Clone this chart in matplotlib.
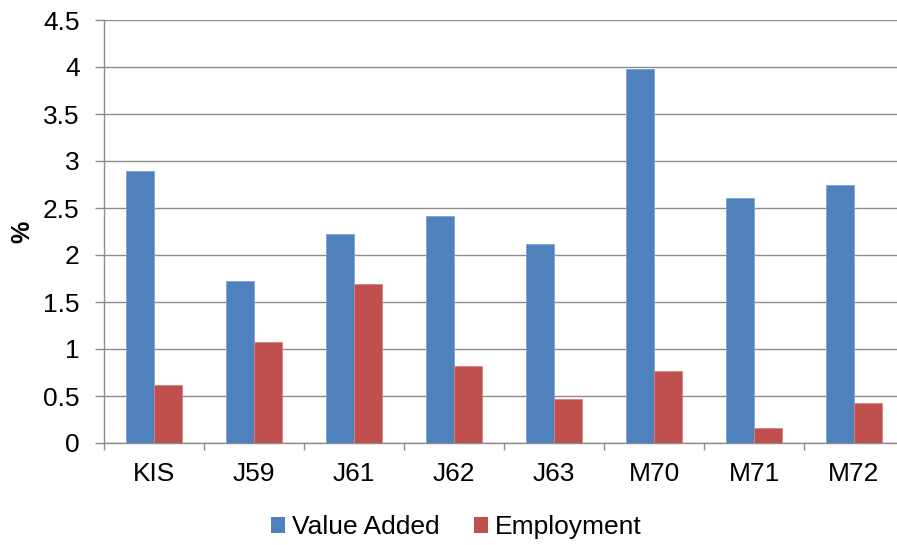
import matplotlib
matplotlib.use("Agg")
import matplotlib.pyplot as plt
import numpy as np
from matplotlib.patches import Patch

plt.rcParams['font.family'] = ['Liberation Sans', 'DejaVu Sans']

categories = ["KIS", "J59", "J61", "J62", "J63", "M70", "M71", "M72"]
value_added = [2.89, 1.72, 2.22, 2.42, 2.12, 3.98, 2.61, 2.74]
employment = [0.62, 1.07, 1.69, 0.82, 0.47, 0.77, 0.16, 0.43]

blue = "#4F81BD"
red = "#C0504D"
grid_col = "#8C8C8C"

fig = plt.figure(figsize=(8.97, 5.45), dpi=100)
ax = fig.add_axes([104 / 897, 102 / 545, 800 / 897, 423 / 545])

x = np.arange(len(categories))
w = 0.28
ax.bar(x - w / 2, value_added, w, color=blue, edgecolor="#7FA3D3", linewidth=0.6, zorder=3)
ax.bar(x + w / 2, employment, w, color=red, edgecolor="#D9807E", linewidth=0.6, zorder=3)

ax.set_xlim(-0.5, len(categories) - 0.5)
ax.set_ylim(0, 4.5)
ax.set_yticks(np.arange(0, 4.51, 0.5))
ax.set_yticklabels(["0", "0.5", "1", "1.5", "2", "2.5", "3", "3.5", "4", "4.5"])
ax.yaxis.grid(True, color=grid_col, linewidth=1.0, zorder=0)
ax.set_axisbelow(True)

ax.set_xticks(x)
ax.set_xticklabels(categories)
ax.set_xticks(np.arange(-0.5, len(categories), 1.0), minor=True)
ax.tick_params(axis="x", which="major", length=0, pad=14, labelsize=19, colors="black")
ax.tick_params(axis="x", which="minor", length=5, width=1.0, color=grid_col, direction="out")
ax.tick_params(axis="y", length=6.5, width=1.0, color=grid_col, direction="out", pad=11, labelsize=19)

for s in ["top", "right"]:
    ax.spines[s].set_visible(False)
for s in ["left", "bottom"]:
    ax.spines[s].set_color(grid_col)
    ax.spines[s].set_linewidth(1.0)

ax.set_ylabel("%", fontsize=18, fontweight="bold", labelpad=6)

handles = [Patch(facecolor=blue, edgecolor="none", label="Value Added"),
           Patch(facecolor=red, edgecolor="none", label="Employment")]
fig.legend(handles=handles, loc="center", bbox_to_anchor=(456 / 897, (545 - 527) / 545),
           ncol=2, frameon=False, fontsize=19, handlelength=0.55, handleheight=0.55,
           handletextpad=0.25, columnspacing=1.3)

fig.savefig("out.png", dpi=100)
